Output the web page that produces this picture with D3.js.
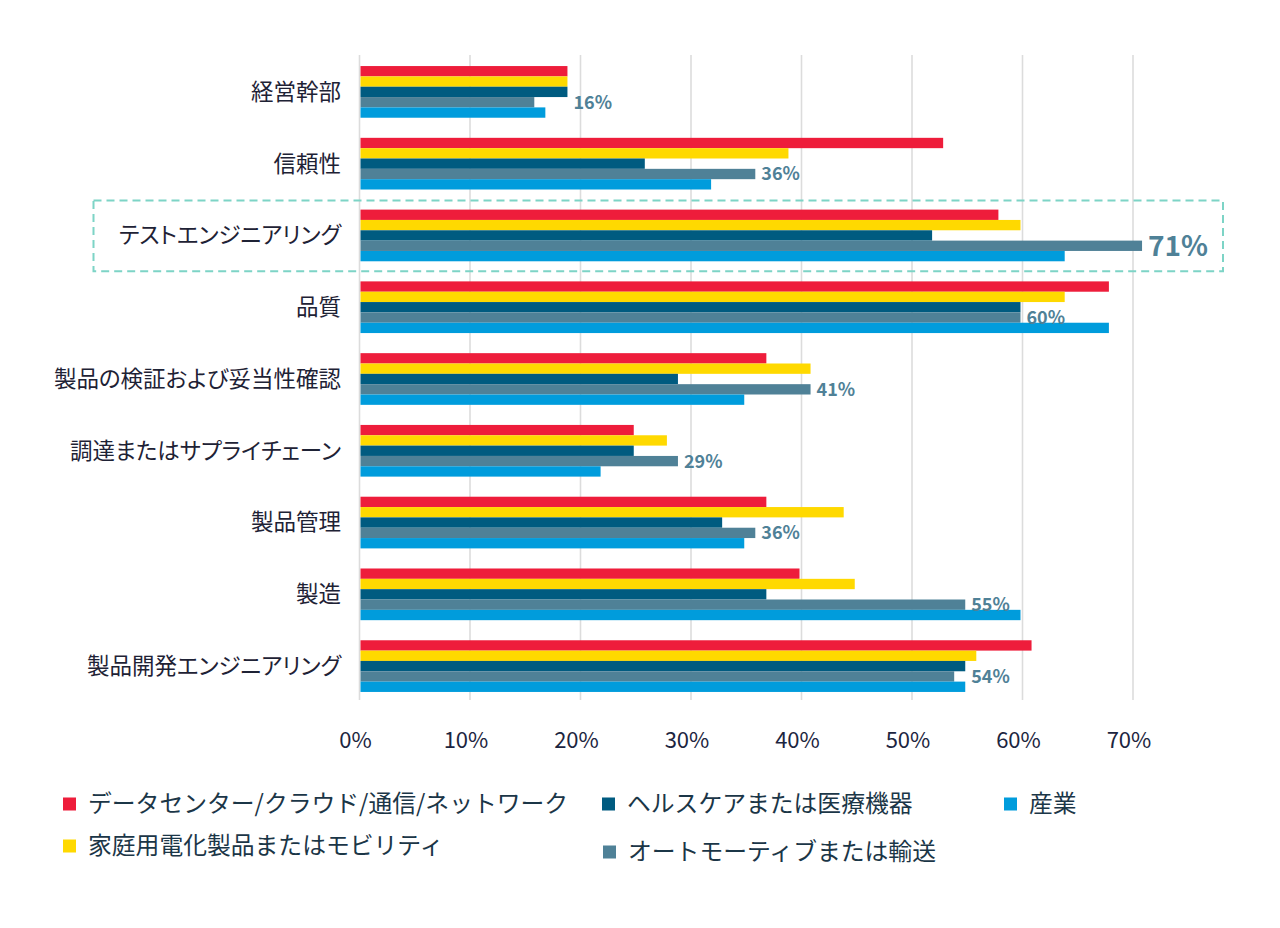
<!DOCTYPE html>
<html>
<head>
<meta charset="utf-8">
<script src="https://cdn.jsdelivr.net/npm/d3@7"></script>
<style>
  html, body { margin: 0; padding: 0; background: #fff; }
  svg { display: block; font-family: "Noto Sans CJK JP", "Noto Sans", sans-serif; }
  .cat { font-feature-settings: "palt"; }
</style>
</head>
<body>
<div id="chart"></div>
<script>
// categories top to bottom
const categories = [
  '経営幹部', '信頼性', 'テストエンジニアリング', '品質', '製品の検証および妥当性確認',
  '調達またはサプライチェーン', '製品管理', '製造', '製品開発エンジニアリング'
];
const seriesNames = [
  'データセンター/クラウド/通信/ネットワーク',
  '家庭用電化製品またはモビリティ',
  'ヘルスケアまたは医療機器',
  'オートモーティブまたは輸送',
  '産業'
];
const seriesColors = ['#ee1d3b', '#ffd900', '#005b80', '#4f8197', '#009cdc'];

// percent values per series, in category order
const dataCenter = [19, 53, 58, 68, 37, 25, 37, 40, 61];
const consumer   = [19, 39, 60, 64, 41, 28, 44, 45, 56];
const healthcare = [19, 26, 52, 60, 29, 25, 33, 37, 55];
const automotive = [16, 36, 71, 60, 41, 29, 36, 55, 54];
const industrial = [17, 32, 64, 68, 35, 22, 35, 60, 55];
const seriesValues = [dataCenter, consumer, healthcare, automotive, industrial];

const xTicks = [0, 10, 20, 30, 40, 50, 60, 70];
const highlighted = 'テストエンジニアリング';
const labelSeries = 3; // automotive values are labelled

const W = 1280, H = 928;
const svg = d3.select('#chart').append('svg')
  .attr('width', W).attr('height', H);

const x = d3.scaleLinear().domain([0, 70]).range([359.5, 1133]);
const y = d3.scaleBand().domain(categories).range([56, 702])
  .paddingInner(0.28).paddingOuter(0.14);
const ySub = d3.scaleBand().domain(d3.range(seriesNames.length)).range([0, y.bandwidth()]);

// gridlines
svg.append('g').selectAll('line')
  .data(xTicks)
  .enter().append('line')
  .attr('x1', d => x(d)).attr('x2', d => x(d))
  .attr('y1', 55).attr('y2', 700)
  .attr('stroke', '#dcdcdc')
  .attr('stroke-width', 1.6);

// tick labels
svg.append('g').selectAll('text')
  .data(xTicks)
  .enter().append('text')
  .attr('x', d => x(d) - 4)
  .attr('y', 740)
  .attr('dy', '0.35em')
  .attr('text-anchor', 'middle')
  .attr('font-size', 22)
  .attr('fill', '#1c2540')
  .text(d => d + '%');

// highlight box
svg.append('rect')
  .attr('x', 93.5)
  .attr('y', y(highlighted) - 9)
  .attr('width', 1223 - 93.5)
  .attr('height', y.bandwidth() + 19)
  .attr('fill', 'none')
  .attr('stroke', '#7dd4c6')
  .attr('stroke-width', 2)
  .attr('stroke-dasharray', '8,5');

// bars
const groups = svg.append('g').selectAll('g')
  .data(categories)
  .enter().append('g')
  .attr('transform', d => `translate(0,${y(d)})`);

groups.selectAll('rect')
  .data((c, ci) => seriesValues.map((vals, si) => ({ si, v: vals[ci] })))
  .enter().append('rect')
  .attr('x', x(0) + 1)
  .attr('y', d => ySub(d.si))
  .attr('width', d => x(d.v) - x(0) - 3)
  .attr('height', ySub.bandwidth())
  .attr('fill', d => seriesColors[d.si]);

// value labels on the automotive bar
groups.append('text')
  .attr('x', (c, ci) => x(Math.max(automotive[ci], healthcare[ci])) + 4)
  .attr('y', ySub(labelSeries) + ySub.bandwidth() / 2)
  .attr('dy', '0.36em')
  .attr('font-weight', 'bold')
  .attr('font-size', c => c === highlighted ? 28 : 18)
  .attr('fill', '#4f8197')
  .text((c, ci) => automotive[ci] + '%');

// category labels
svg.append('g').selectAll('text')
  .data(categories)
  .enter().append('text')
  .attr('class', 'cat')
  .attr('x', 341)
  .attr('y', d => y(d) + y.bandwidth() / 2)
  .attr('dy', '0.35em')
  .attr('text-anchor', 'end')
  .attr('font-size', 22.5)
  .attr('fill', '#1e2235')
  .text(d => d);

// legend
const legendPos = [
  { x: 63, y: 804 },
  { x: 63, y: 846 },
  { x: 602, y: 804 },
  { x: 603, y: 852 },
  { x: 1004, y: 804 }
];
const legend = svg.append('g').selectAll('g')
  .data(seriesNames)
  .enter().append('g')
  .attr('transform', (d, i) => `translate(${legendPos[i].x},${legendPos[i].y})`);

legend.append('rect')
  .attr('x', 0).attr('y', -6.5)
  .attr('width', 13).attr('height', 13)
  .attr('fill', (d, i) => seriesColors[i]);

legend.append('text')
  .attr('x', 25)
  .attr('dy', '0.35em')
  .attr('font-size', 23.8)
  .attr('fill', '#1b3647')
  .text(d => d);
</script>
</body>
</html>
